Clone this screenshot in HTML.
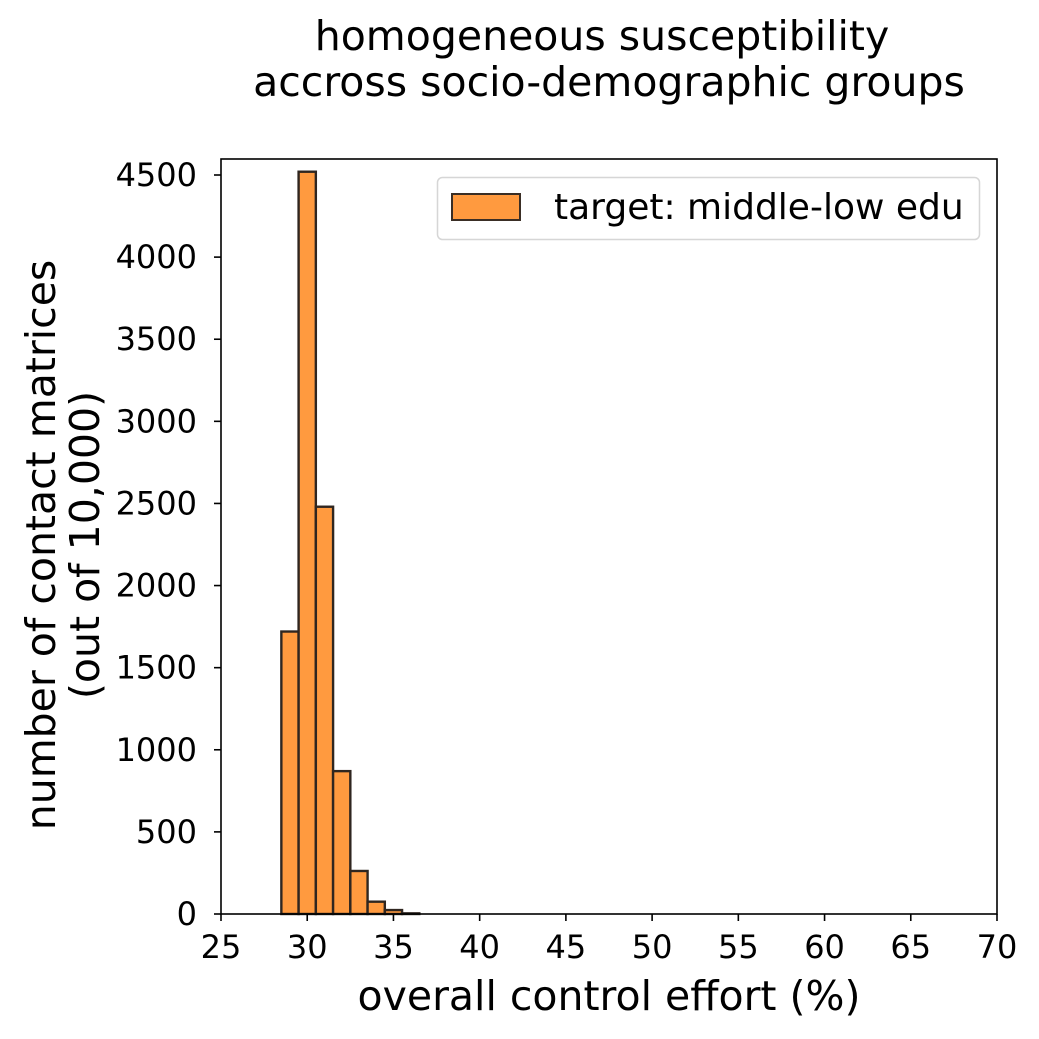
<!DOCTYPE html>
<html><head><meta charset="utf-8"><style>
body{margin:0;background:#fff}
svg{display:block;font-family:"DejaVu Sans","Liberation Sans",sans-serif}
</style></head><body>
<svg id="chart" width="1039" height="1039" viewBox="0 0 1039 1039">
<rect width="1039" height="1039" fill="#fff"/>
<text x="602" y="50" font-size="41" text-anchor="middle">homogeneous susceptibility</text>
<text x="609" y="96" font-size="41" text-anchor="middle">accross socio-demographic groups</text>
<g id="bars"></g>
<g id="xticks"></g>
<g id="yticks"></g>
<rect x="221" y="159" width="776" height="755" fill="none" stroke="#000" stroke-width="1.6"/>
<text x="609" y="1010" font-size="41" text-anchor="middle">overall control effort (%)</text>
<g transform="translate(55,545) rotate(-90)">
<text x="0" y="0" font-size="41" text-anchor="middle">number of contact matrices</text>
<text x="0" y="44" font-size="41" text-anchor="middle">(out of 10,000)</text>
</g>
<g>
<rect x="437.5" y="177.5" width="542" height="62" rx="5" fill="#fff" stroke="#d6d6d6" stroke-width="1.5"/>
<rect x="452" y="194" width="68" height="26" fill="#ff9a3f" stroke="#3a2e25" stroke-width="2"/>
<text x="554" y="219" font-size="36">target: middle-low edu</text>
</g>
</svg>
<script>
const binStarts = [28.5, 29.5, 30.5, 31.5, 32.5, 33.5, 34.5, 35.5];
const counts = [1720, 4520, 2480, 870, 262, 75, 24, 4];
const binWidth = 1.0;
const xTicks = [25, 30, 35, 40, 45, 50, 55, 60, 65, 70];
const yTicks = [0, 500, 1000, 1500, 2000, 2500, 3000, 3500, 4000, 4500];

const X0=221, X1=997, Y0=914, Y1=159;
const xMin=25, xMax=70;
function xs(v){return X0+(v-xMin)/(xMax-xMin)*(X1-X0);}
function ys(v){return Y0-v*(914-175)/4500;}
const NS="http://www.w3.org/2000/svg";
const bars=document.getElementById('bars');
binStarts.forEach((b,i)=>{
  const r=document.createElementNS(NS,'rect');
  const x=xs(b), w=xs(b+binWidth)-x, y=ys(counts[i]);
  r.setAttribute('x',x);r.setAttribute('y',y);
  r.setAttribute('width',w);r.setAttribute('height',Math.max(0,Y0-y));
  r.setAttribute('fill','#ff9a3f');r.setAttribute('stroke','#2f2620');r.setAttribute('stroke-width','2.4');
  
  
  bars.appendChild(r);
});
const xg=document.getElementById('xticks');
xTicks.forEach(t=>{
  const x=xs(t);
  const l=document.createElementNS(NS,'line');
  l.setAttribute('x1',x);l.setAttribute('x2',x);l.setAttribute('y1',Y0);l.setAttribute('y2',Y0+7);
  l.setAttribute('stroke','#000');l.setAttribute('stroke-width','1.6');
  
  
  xg.appendChild(l);
  const tx=document.createElementNS(NS,'text');
  tx.setAttribute('x',x);tx.setAttribute('y',958);tx.setAttribute('font-size','32');tx.setAttribute('text-anchor','middle');
  tx.textContent=t;
  
  
  xg.appendChild(tx);
});
const yg=document.getElementById('yticks');
yTicks.forEach(t=>{
  const y=ys(t);
  const l=document.createElementNS(NS,'line');
  l.setAttribute('x1',X0-7);l.setAttribute('x2',X0);l.setAttribute('y1',y);l.setAttribute('y2',y);
  l.setAttribute('stroke','#000');l.setAttribute('stroke-width','1.6');
  
  
  yg.appendChild(l);
  const tx=document.createElementNS(NS,'text');
  tx.setAttribute('x',X0-24);tx.setAttribute('y',y+11);tx.setAttribute('font-size','32');tx.setAttribute('text-anchor','end');
  tx.textContent=t;
  
  
  yg.appendChild(tx);
});
</script>
</body></html>
